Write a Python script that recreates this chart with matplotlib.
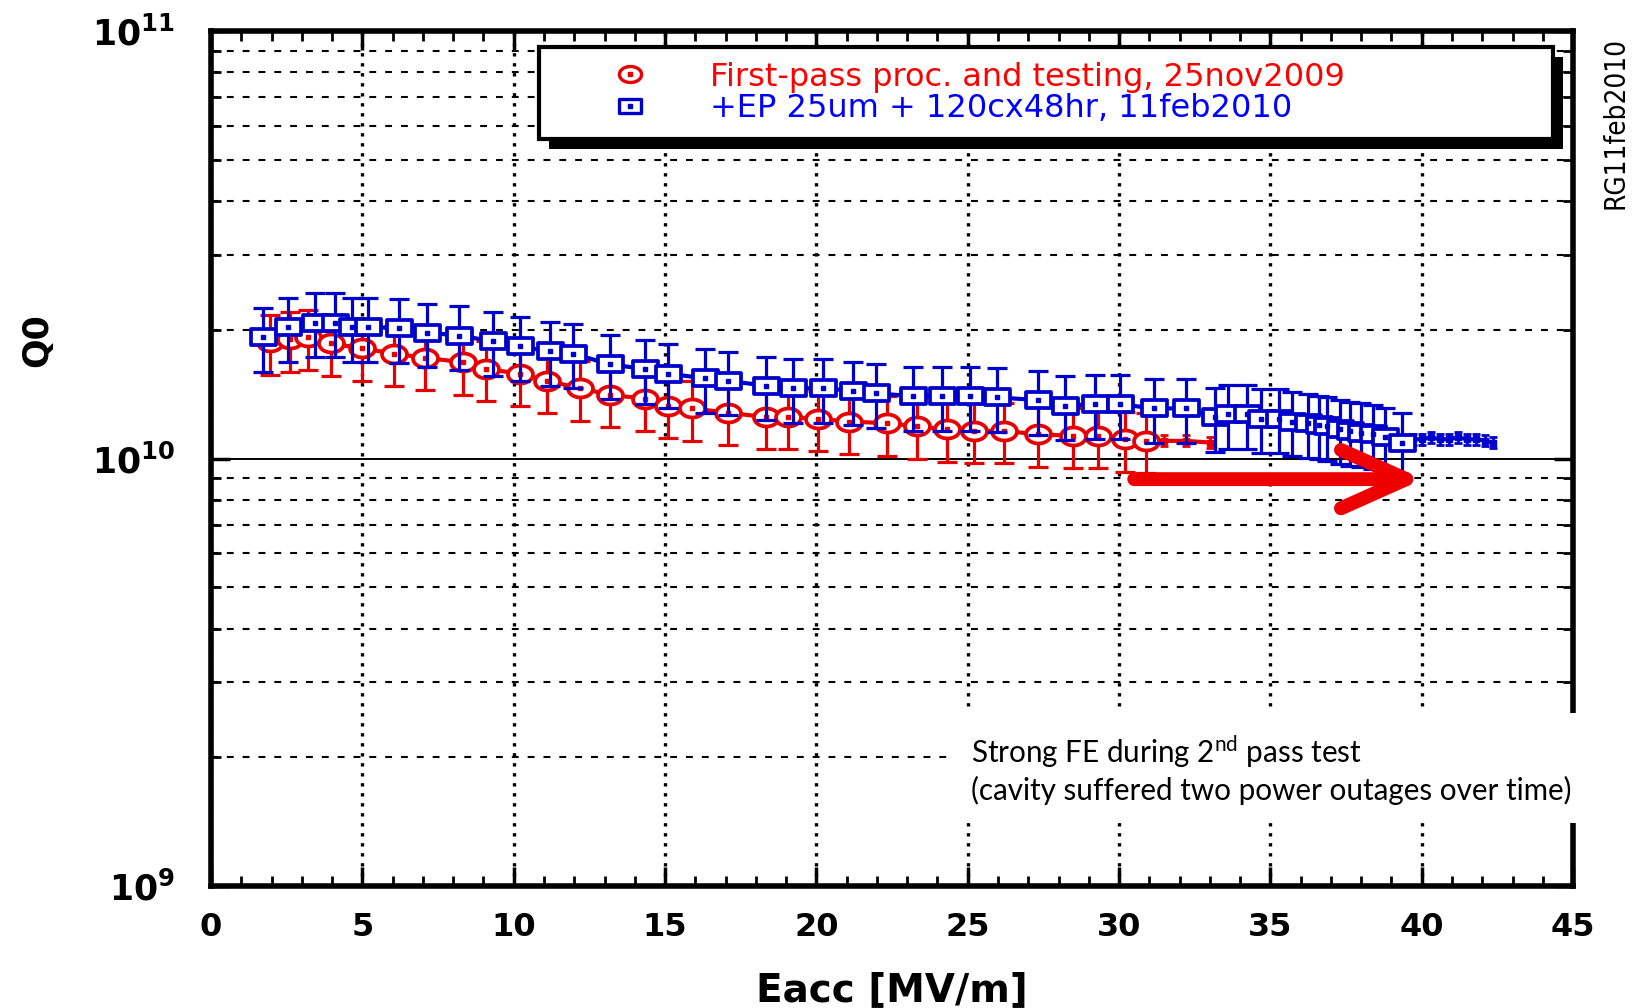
import matplotlib
matplotlib.use("Agg")
import matplotlib.pyplot as plt
import numpy as np
from matplotlib.path import Path
from matplotlib.lines import Line2D
from matplotlib.patches import Rectangle
from matplotlib.ticker import MultipleLocator, LogLocator, NullFormatter

plt.rcParams["mathtext.fontset"] = "dejavusans"
plt.rcParams["mathtext.rm"] = "Lato"
plt.rcParams["mathtext.bf"] = "Lato:bold"

# first pass, 25nov2009 (red circles), Q0 in units of 1e10
eacc_1 = [1.95, 2.6, 3.2, 3.96, 4.99, 6.05, 7.07, 8.32, 9.08, 10.21, 11.1, 12.19,
          13.18, 14.34, 15.1, 15.9, 17.08, 18.33, 19.06, 20.05, 21.08, 22.33,
          23.32, 24.31, 25.21, 26.2, 27.32, 28.48, 29.3, 30.2, 30.9]
q0_1 = [1.87, 1.90, 1.92, 1.86, 1.81, 1.76, 1.72, 1.68, 1.62, 1.58, 1.52, 1.46,
        1.41, 1.38, 1.33, 1.31, 1.28, 1.25, 1.25, 1.24, 1.22, 1.21,
        1.19, 1.17, 1.16, 1.16, 1.14, 1.13, 1.13, 1.11, 1.10]
eacc_1_tail = [30.9, 31.5, 32.2, 33.0]
q0_1_tail = [1.10, 1.10, 1.10, 1.09]

# second pass, 11feb2010 (blue squares)
eacc_2 = [1.72, 2.54, 3.44, 4.1, 4.66, 5.19, 6.21, 7.14, 8.19, 9.32, 10.21, 11.2,
          11.96, 13.18, 14.34, 15.1, 16.32, 17.08, 18.33, 19.23, 20.22, 21.21,
          21.97, 23.19, 24.15, 25.07, 25.97, 27.32, 28.21, 29.2, 30.03, 31.15,
          32.2, 33.17, 33.6, 34.22, 34.7, 35.28, 35.7, 36.24, 36.6, 36.87, 37.3,
          37.63, 38.0, 38.4, 38.8, 39.35]
q0_2 = [1.92, 2.03, 2.08, 2.08, 2.03, 2.03, 2.02, 1.97, 1.94, 1.88, 1.83, 1.78,
        1.76, 1.66, 1.62, 1.58, 1.54, 1.52, 1.48, 1.46, 1.46, 1.44,
        1.42, 1.40, 1.40, 1.40, 1.39, 1.37, 1.33, 1.34, 1.34, 1.31,
        1.31, 1.25, 1.27, 1.27, 1.24, 1.24, 1.22, 1.21, 1.20, 1.19, 1.17,
        1.16, 1.15, 1.14, 1.12, 1.09]
eacc_2_tail = [39.35, 39.7, 40.0, 40.3, 40.6, 40.9, 41.2, 41.5, 41.8, 42.1, 42.35]
q0_2_tail = [1.09, 1.11, 1.11, 1.12, 1.11, 1.11, 1.12, 1.11, 1.11, 1.10, 1.09]

rel_err_1 = 0.16
rel_err_2 = 0.17
rel_err_tail = 0.03

labels = ["First-pass proc. and testing, 25nov2009",
          "+EP 25um + 120cx48hr, 11feb2010"]

RED = "#e80000"
BLUE = "#0000cc"

# marker shapes (the original is stretched sideways)
t = np.linspace(0, 2 * np.pi, 41)
ellipse = Path(np.c_[np.cos(t), 0.72 * np.sin(t)], closed=True)
box = Path([(-1, -0.62), (1, -0.62), (1, 0.62), (-1, 0.62), (-1, -0.62)], closed=True)


def draw_series(ax, x, q, rel, color, marker, ms, z):
    x = np.asarray(x)
    y = np.asarray(q) * 1e10
    ax.errorbar(x, y, yerr=rel * y, fmt="none", ecolor=color, elinewidth=2.3,
                capsize=7, capthick=2.3, zorder=z)
    ax.plot(x, y, color=color, lw=3, marker=marker, ms=ms, mfc="white",
            mec=color, mew=2.7, zorder=z + 0.1)
    ax.plot(x, y, ls="none", marker="s", ms=2.8, color=color, zorder=z + 0.2)


fig = plt.figure(figsize=(16.4, 10.08), dpi=100)
ax = fig.add_axes([0.1287, 0.1210, 0.8305, 0.8482])
ax.set_yscale("log")
ax.set_xlim(0, 45)
ax.set_ylim(1e9, 1e11)

# tails (dense, small markers)
for x, q, c, z in [(eacc_1_tail, q0_1_tail, RED, 2), (eacc_2_tail, q0_2_tail, BLUE, 3)]:
    y = np.asarray(q) * 1e10
    ax.errorbar(x, y, yerr=rel_err_tail * y, fmt="none", ecolor=c, elinewidth=2,
                capsize=3, capthick=2, zorder=z)
    ax.plot(x, y, color=c, lw=3, marker="s", ms=5, zorder=z)

draw_series(ax, eacc_1, q0_1, rel_err_1, RED, ellipse, 18, 2)
draw_series(ax, eacc_2, q0_2, rel_err_2, BLUE, box, 18, 3)

# grid
ax.set_axisbelow(True)
ax.set_xticks(range(0, 46, 5))
ax.xaxis.set_minor_locator(MultipleLocator(1))
ax.set_yticks([1e9, 1e10, 1e11])
ax.yaxis.set_minor_locator(LogLocator(base=10, subs=np.arange(2, 10)))
ax.yaxis.set_minor_formatter(NullFormatter())
ax.grid(True, which="major", axis="x", color="k", lw=2.4, ls=(0, (1, 2)))
ax.grid(True, which="minor", axis="y", color="k", lw=1.5, ls=(0, (3.3, 4.3)))
ax.grid(True, which="major", axis="y", color="k", lw=1.4, ls="-")

ax.set_xticklabels([str(v) for v in range(0, 46, 5)], fontweight="bold", fontsize=23)
ax.set_yticklabels([r"$\mathbf{10^{9}}$", r"$\mathbf{10^{10}}$", r"$\mathbf{10^{11}}$"],
                   fontsize=25)
ax.tick_params(which="both", direction="in", top=True, right=True, colors="k")
ax.tick_params(which="major", length=14, width=2.5)
ax.tick_params(which="minor", length=7, width=2)
ax.tick_params(axis="x", pad=19)
ax.tick_params(axis="y", pad=26)
for s in ax.spines.values():
    s.set_linewidth(4)

ax.set_xlabel("Eacc [MV/m]", fontsize=28, fontweight="bold", labelpad=20)
fig.text(37 / 1640, 1 - 340 / 1008, "Q0", rotation=90, ha="center", va="center",
         fontsize=25, fontweight="bold")

# legend
h1 = (Line2D([], [], ls="none", marker=ellipse, ms=16, mfc="white", mec=RED, mew=2.4),
      Line2D([], [], ls="none", marker="s", ms=2.8, color=RED))
h2 = (Line2D([], [], ls="none", marker=box, ms=16, mfc="white", mec=BLUE, mew=2.4),
      Line2D([], [], ls="none", marker="s", ms=2.8, color=BLUE))
leg = ax.legend([h1, h2], labels, loc="upper left",
                bbox_to_anchor=(0.241, 0.981, 0.744, 0.0), mode="expand",
                borderaxespad=0, borderpad=0.45, handlelength=4.75, handletextpad=0.15,
                labelspacing=0.02, fontsize=23, fancybox=False, framealpha=1,
                edgecolor="k")
leg.get_frame().set_linewidth(3)
leg.set_zorder(10)
for txt, c in zip(leg.get_texts(), ["#ff0000", "#0000ff"]):
    txt.set_color(c)

fig.canvas.draw()
bb = leg.get_frame().get_window_extent()
shadow = Rectangle((bb.x0 + 10, bb.y0 - 10), bb.width, bb.height, transform=None,
                   facecolor="k", edgecolor="none", zorder=9)
ax.add_artist(shadow)

# red arrow
ax.annotate("", xy=(40.05, 8.95e9), xytext=(30.5, 8.95e9),
            arrowprops=dict(arrowstyle="->,head_length=4.7,head_width=2.1",
                            color="#ee0000", lw=10, shrinkA=0, shrinkB=0,
                            mutation_scale=10, capstyle="round", joinstyle="round"),
            zorder=8)

fig.text(971 / 1640, 1 - 769 / 1008,
         "Strong FE during 2$^{\\mathrm{nd}}$ pass test\n"
         "(cavity suffered two power outages over time)",
         ha="left", va="center", fontsize=21.3, family="Lato", math_fontfamily="custom",
         linespacing=1.28,
         bbox=dict(boxstyle="square,pad=0.6", facecolor="white", edgecolor="none"),
         zorder=20)

fig.text(1616 / 1640, 1 - 123 / 1008, "RG11feb2010", rotation=90, ha="center",
         va="center", fontsize=20, family="DejaVu Sans", fontstretch="condensed")

fig.savefig("out.png", dpi=100, facecolor="white")
